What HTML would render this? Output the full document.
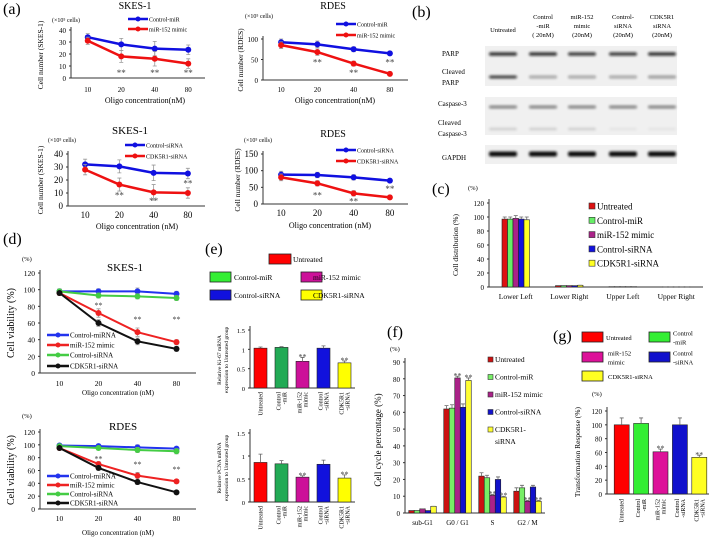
<!DOCTYPE html>
<html><head><meta charset="utf-8"><style>
html,body{margin:0;padding:0;background:#fff;}
svg{display:block;font-family:"Liberation Serif",serif;}
</style></head><body>
<svg id="fig" width="709" height="537" viewBox="0 0 709 537" xmlns="http://www.w3.org/2000/svg">
<defs><filter id="blur1" x="-20%" y="-100%" width="140%" height="300%"><feGaussianBlur stdDeviation="1.2"/></filter></defs>
</svg>
<script>
// ---------- DATA ----------
const concLabels = ['10','20','40','80'];
const aSkesCtrl = [34, 28, 24.5, 23.5];
const aSkesMimic = [31, 18, 16, 12];
const aSkesErr = [3, 5, 6, 4];
const aRdesCtrl = [92, 87, 75, 65];
const aRdesMimic = [85, 68, 40, 15];
const aRdesErr = [8, 8, 6, 5];
const aSkesSiCtrl = [32, 30.5, 25.5, 25];
const aSkesSiCdk = [28, 16.5, 10.5, 10];
const aSkesSiErr = [4, 5, 6, 4];
const aRdesSiCtrl = [88, 87, 80, 70];
const aRdesSiCdk = [80, 62, 32, 20];
const aRdesSiErr = [10, 8, 8, 6];
const dSkesCtrlMiRNA = [98, 98, 98, 95];
const dSkesMimic = [96, 72, 49, 37];
const dSkesCtrlSiRNA = [98, 93, 92, 90];
const dSkesCdk = [96, 60, 38, 29];
const dRdesCtrlMiRNA = [99, 98, 96, 94];
const dRdesMimic = [95, 70, 52, 43];
const dRdesCtrlSiRNA = [98, 95, 92, 90];
const dRdesCdk = [95, 64, 42, 26];
const groupNames = ['Untreated','Control-miR','miR-152 mimic','Control-siRNA','CDK5R1-siRNA'];
const eKi67 = [1.03, 1.05, 0.69, 1.03, 0.65];
const eKi67Err = [0.03, 0.02, 0.1, 0.06, 0.05];
const ePcna = [0.86, 0.83, 0.54, 0.82, 0.52];
const ePcnaErr = [0.18, 0.07, 0.03, 0.09, 0.07];
const cCats = ['Lower Left','Lower Right','Upper Left','Upper Right'];
const cUntreated = [97, 2, 0.5, 0.3];
const cCtrlMiR = [97, 2, 0.5, 0.3];
const cMimic = [98, 2, 0.5, 0.3];
const cCtrlSi = [97, 2, 0.5, 0.3];
const cCdk = [96, 2.5, 0.5, 0.3];
const fCats = ['sub-G1','G0 / G1','S','G2 / M'];
const fUntreated = [1.5, 62, 22, 13];
const fCtrlMiR = [1.5, 62.5, 21, 15];
const fMimic = [2.5, 80.5, 10.5, 7];
const fCtrlSi = [1.5, 63, 20, 15.5];
const fCdk = [4, 79, 9.5, 7];
const gTransform = [100, 102, 61, 100, 53];
const gErr = [10, 8, 4, 10, 3];

// ---------- helpers ----------
const NS='http://www.w3.org/2000/svg';
const svg=document.getElementById('fig');
function mk(tag, attrs, parent){const e=document.createElementNS(NS,tag);for(const k in attrs)e.setAttribute(k,attrs[k]);(parent||svg).appendChild(e);return e;}
function tx(s,x,y,size,parent,anchor,rot){const a={x:x,y:y,'font-size':size,'text-anchor':anchor||'middle'};if(rot)a.transform='rotate('+rot+' '+x+' '+y+')';const t=mk('text',a,parent);t.textContent=s;return t;}

function lineChart(name, geom, ymax, yTicks, series, stars){
  const g=mk('g',{});
  
  
  const band=(geom.x1-geom.x0)/concLabels.length;
  const X=i=>geom.x0+(i+0.5)*band;
  const Y=v=>geom.y0-(v/ymax)*(geom.y0-geom.yTop);
  const ya=mk('line',{x1:geom.x0,y1:geom.yTop-3,x2:geom.x0,y2:geom.y0,stroke:'#333','stroke-width':1},g);
  
  
  const xa=mk('line',{x1:geom.x0,y1:geom.y0,x2:geom.x1,y2:geom.y0,stroke:'#333','stroke-width':1},g);
  
  
  yTicks.forEach(v=>{
    const t=tx(String(v),geom.x0-5,Y(v)+3,geom.tf||8,g,'end');
    
    
    mk('line',{x1:geom.x0-2,y1:Y(v),x2:geom.x0,y2:Y(v),stroke:'#333'},g);
  });
  concLabels.forEach((c,i)=>{
    const t=tx(c,X(i),geom.y0+geom.xl,geom.tf||8,g);
    
    
  });
  series.forEach(s=>{
    const pts=s.vals.map((v,i)=>X(i)+','+Y(v)).join(' ');
    if(s.err){s.vals.forEach((v,i)=>{
      const e=mk('path',{d:'M'+X(i)+' '+Y(v+s.err[i])+'V'+Y(Math.max(0,v-s.err[i]))+'M'+(X(i)-2)+' '+Y(v+s.err[i])+'h4M'+(X(i)-2)+' '+Y(Math.max(0,v-s.err[i]))+'h4',stroke:'#999','stroke-width':0.8,fill:'none'},g);
      
      
    });}
    const pl=mk('polyline',{points:pts,fill:'none',stroke:s.color,'stroke-width':s.w||2.5},g);
    
    
    s.vals.forEach((v,i)=>{
      const c=mk('circle',{cx:X(i),cy:Y(v),r:s.r||3,fill:s.color},g);
      
      
    });
  });
  (stars||[]).forEach((v,i)=>{
    if(v===null)return;
    const t=tx('**',X(i),Y(v)+4,geom.sf||9,g);
    t.setAttribute('fill','#444');
    
    
  });
  return g;
}
function lineLegend(x,y,color,label,size,len){
  const g=mk('g',{});
  
  
  mk('line',{x1:x,y1:y,x2:x+(len||20),y2:y,stroke:color,'stroke-width':2.5},g);
  mk('circle',{cx:x+(len||20)/2,cy:y,r:2.5,fill:color},g);
  tx(label,x+(len||20)+1,y+2.5,size||7,g,'start');
}
function barChart(name, geom, ymax, yTicks, tickFmt, nCats, series, barColors){
  const g=mk('g',{});
  
  
  const bs=geom.bs!==undefined?geom.bs:geom.x0;
  const band=(geom.x1-bs)/nCats;
  const Y=v=>geom.y0-(v/ymax)*(geom.y0-geom.yTop);
  const ya=mk('line',{x1:geom.x0,y1:geom.yTop-4,x2:geom.x0,y2:geom.y0,stroke:'#333'},g);
  
  
  const xa=mk('line',{x1:geom.x0,y1:geom.y0,x2:geom.x1,y2:geom.y0,stroke:'#333'},g);
  
  
  yTicks.forEach(v=>{
    const t=tx(tickFmt(v),geom.x0-5,Y(v)+3,geom.tf||8,g,'end');
    
    
    mk('line',{x1:geom.x0-2,y1:Y(v),x2:geom.x0,y2:Y(v),stroke:'#333'},g);
  });
  const ns=series.length;
  for(let c=0;c<nCats;c++){
    const cx=bs+(c+0.5)*band;
    series.forEach((s,k)=>{
      const v=s.vals[c];
      const x=cx-ns*geom.bw/2+k*geom.bw;
      const col=barColors?barColors[c]:s.color;
      const r=mk('rect',{x:x,y:Y(v),width:geom.bw,height:geom.y0-Y(v),fill:col,stroke:'#222','stroke-width':0.6},g);
      
      
      if(s.err){
        const e=mk('path',{d:'M'+(x+geom.bw/2)+' '+Y(v)+'V'+Y(v+s.err[c])+'M'+(x+geom.bw/2-2)+' '+Y(v+s.err[c])+'h4',stroke:'#666','stroke-width':0.8},g);
        
        
      }
      if(s.stars&&s.stars[c]){
        const t=tx('**',x+geom.bw/2,Y(v+(s.err?s.err[c]:0))-2+4,geom.sf||9,g);
        t.setAttribute('fill','#444');
        
        
      }
    });
  }
  return {g:g,center:c=>bs+(c+0.5)*band};
}
function label(s,x,y,size,name,anchor,rot){const t=tx(s,x,y,size,svg,anchor,rot);return t;}
function boxLegend(x,y,w,h,color,lines,size,tx0,name){
  const g=mk('g',{});
  
  
  mk('rect',{x:x,y:y,width:w,height:h,fill:color,stroke:'#222','stroke-width':0.8},g);
  lines.forEach((l,i)=>tx(l,tx0,y+h/2+3+(i-(lines.length-1)/2)*9,size,g,'start'));
}

// ---------- Panel (a) ----------
label('(a)',3,14,16,'panel-a-label','start');
const u='(×10\u2075 cells)';
lineChart('skes1-mir-chart',{x0:71,x1:205,y0:78,yTop:30,xl:14,tf:7},40,[0,10,20,30,40],
 [{name:'control-mir',vals:aSkesCtrl,err:aSkesErr,color:'#1010e0'},{name:'mir152-mimic',vals:aSkesMimic,err:aSkesErr,color:'#ee1111'}],[null,5,5,5]);
label('SKES-1',135,9,10,'chart-title');
label(u,52,22,6,'y-units','start');
label('Cell number (SKES-1)',43,55,7.5,'y-axis-title','middle',-90);
label('Oligo concentration(nM)',145,103,8,'x-axis-title');
lineLegend(128,19,'#1010e0','Control-miR',6);
lineLegend(128,29,'#ee1111','miR-152 mimic',6);
lineChart('rdes-mir-chart',{x0:263,x1:408,y0:80,yTop:39,xl:12,tf:7},100,[0,50,100],
 [{name:'control-mir',vals:aRdesCtrl,err:aRdesErr,color:'#1010e0'},{name:'mir152-mimic',vals:aRdesMimic,err:aRdesErr,color:'#ee1111'}],[null,45,19,45]);
label('RDES',333,9,10,'chart-title');
label(u,245,18,6,'y-units','start');
label('Cell number (RDES)',243,60,7.5,'y-axis-title','middle',-90);
label('Oligo concentration(nM)',335,103,8,'x-axis-title');
lineLegend(336,24,'#1010e0','Control-miR',6);
lineLegend(336,35,'#ee1111','miR-152 mimic',6);
lineChart('skes1-sirna-chart',{x0:68,x1:205,y0:206,yTop:154,xl:12,tf:9},40,[0,10,20,30,40],
 [{name:'control-sirna',vals:aSkesSiCtrl,err:aSkesSiErr,color:'#1010e0'},{name:'cdk5r1-sirna',vals:aSkesSiCdk,err:aSkesSiErr,color:'#ee1111'}],[null,9,4.5,18]);
label('SKES-1',130,134,11,'chart-title');
label(u,48,142,6,'y-units','start');
label('Cell number (SKES-1)',43,180,7.5,'y-axis-title','middle',-90);
label('Oligo concentration (nM)',137,229,8,'x-axis-title');
lineLegend(125,145,'#1010e0','Control-siRNA',6);
lineLegend(125,156,'#ee1111','CDK5R1-siRNA',6);
lineChart('rdes-sirna-chart',{x0:263,x1:408,y0:204,yTop:154,xl:12,tf:9},150,[0,50,100,150],
 [{name:'control-sirna',vals:aRdesSiCtrl,err:aRdesSiErr,color:'#1010e0'},{name:'cdk5r1-sirna',vals:aRdesSiCdk,err:aRdesSiErr,color:'#ee1111'}],[null,28,10,48]);
label('RDES',333,137,10,'chart-title');
label(u,244,142,6,'y-units','start');
label('Cell number (RDES)',240,180,7.5,'y-axis-title','middle',-90);
label('Oligo concentration (nM)',330,228,8,'x-axis-title');
lineLegend(336,150,'#1010e0','Control-siRNA',6);
lineLegend(336,161,'#ee1111','CDK5R1-siRNA',6);

// ---------- Panel (b) ----------
label('(b)',412,17,16,'panel-b-label','start');
const lanes=[503,543,582,623,662];
const heads=[['Untreated'],['Control','-miR','( 20nM)'],['miR-152','mimic','(20nM)'],['Control-','siRNA','(20nM)'],['CDK5R1','siRNA','(20nM)']];
heads.forEach((h,i)=>{h.forEach((l,j)=>{label(l,lanes[i],(h.length===1?32:19)+j*9,6.5,'lane-header');});});
[[485,46,192,40],[485,97,192,38],[485,145,192,19]].forEach(b=>{const r=mk('rect',{x:b[0],y:b[1],width:b[2],height:b[3],fill:'#f0f0f0'});});
const bandRows=[{y:54,h:3.5,op:[0.85,0.85,0.8,0.8,0.85]},{y:77,h:3,op:[0.8,0.35,0.35,0.35,0.4]},{y:107,h:3,op:[0.5,0.5,0.5,0.5,0.5]},{y:129,h:2.5,op:[0.15,0.15,0.15,0.05,0.05]},{y:154,h:5,op:[1,1,1,1,1]}];
bandRows.forEach(r=>{lanes.forEach((x,i)=>{const e=mk('rect',{x:x-14,y:r.y-r.h/2,width:28,height:r.h,rx:2,fill:'#111','fill-opacity':r.op[i],filter:'url(#blur1)'});});});
label('PARP',442,56,7,'row-label','start');
label('Cleaved',442,74,7,'row-label','start');
label('PARP',442,85,7,'row-label','start');
label('Caspase-3',438,106,7,'row-label','start');
label('Cleaved',438,125,7,'row-label','start');
label('Caspase-3',438,136,7,'row-label','start');
label('GAPDH',442,160,7,'row-label','start');

// ---------- Panel (c) ----------
label('(c)',432,194,16,'panel-c-label','start');
label('(%)',468,190,6.5,'y-units','start');
const cColors=['#dd1111','#66ee66','#aa2288','#1111dd','#ffff22'];
const cc=barChart('cell-distribution-chart',{x0:489,x1:703,y0:287,yTop:203,bw:5.5,tf:7},120,[0,20,40,60,80,100,120],v=>String(v),4,
 [{vals:cUntreated,err:[3,0,0,0],color:cColors[0]},{vals:cCtrlMiR,err:[3,0,0,0],color:cColors[1]},{vals:cMimic,err:[4,0,0,0],color:cColors[2]},{vals:cCtrlSi,err:[3,0,0,0],color:cColors[3]},{vals:cCdk,err:[4,0,0,0],color:cColors[4]}]);
cCats.forEach((c,i)=>label(c,cc.center(i),299,7.5,'x-tick-label'));
label('Cell distribution (%)',458,245,7.5,'y-axis-title','middle',-90);
groupNames.forEach((n,i)=>{const g=mk('g',{});mk('rect',{x:589,y:203+i*14.3,width:6,height:6,fill:cColors[i],stroke:'#333','stroke-width':0.6},g);tx(n,597,209.5+i*14.3,9,g,'start');});

// ---------- Panel (d) ----------
label('(d)',3,244,16,'panel-d-label','start');
const dSeries1=[{name:'control-mirna',vals:dSkesCtrlMiRNA,err:[3,3,4,3],color:'#2233ee',w:2},{name:'mir152-mimic',vals:dSkesMimic,err:[3,5,5,3],color:'#ee2222',w:2},{name:'control-sirna',vals:dSkesCtrlSiRNA,err:[2,3,3,3],color:'#44cc44',w:2},{name:'cdk5r1-sirna',vals:dSkesCdk,err:[2,4,4,3],color:'#111',w:2}];
lineChart('skes1-viability-chart',{x0:40,x1:196,y0:373,yTop:273,xl:13,tf:7.5,sf:8},120,[0,20,40,60,80,100,120],dSeries1,[null,83,66,66]);
label('(%)',22,261,6.5,'y-units','start');
label('SKES-1',125,271,11,'chart-title');
label('Cell viability (%)',14,323,10,'y-axis-title','middle',-90);
label('Oligo concentration (nM)',118,395,7,'x-axis-title');
lineLegend(47,335,'#2233ee','Control-miRNA',7,22);
lineLegend(47,345,'#ee2222','miR-152 mimic',7,22);
lineLegend(47,355,'#44cc44','Control-siRNA',7,22);
lineLegend(47,366,'#111','CDK5R1-siRNA',7,22);
const dSeries2=[{name:'control-mirna',vals:dRdesCtrlMiRNA,err:[3,3,4,3],color:'#2233ee',w:2},{name:'mir152-mimic',vals:dRdesMimic,err:[3,4,5,3],color:'#ee2222',w:2},{name:'control-sirna',vals:dRdesCtrlSiRNA,err:[2,3,4,4],color:'#44cc44',w:2},{name:'cdk5r1-sirna',vals:dRdesCdk,err:[3,4,4,3],color:'#111',w:2}];
lineChart('rdes-viability-chart',{x0:40,x1:196,y0:509,yTop:432,xl:12,tf:7.5,sf:8},120,[0,20,40,60,80,100,120],dSeries2,[null,80,72,64]);
label('(%)',22,418,6.5,'y-units','start');
label('RDES',123,430,11,'chart-title');
label('Cell viability (%)',14,470,10,'y-axis-title','middle',-90);
label('Oligo concentration (nM)',118,535,7,'x-axis-title');
lineLegend(47,476,'#2233ee','Control-miRNA',7,22);
lineLegend(47,485,'#ee2222','miR-152 mimic',7,22);
lineLegend(47,494,'#44cc44','Control-siRNA',7,22);
lineLegend(47,503,'#111','CDK5R1-siRNA',7,22);

// ---------- Panel (e) ----------
label('(e)',205,254,16,'panel-e-label','start');
const eColors=['#ff0000','#22aa55','#cc1199','#1111dd','#ffff00'];
boxLegend(269,254,22,10,'#ff0000',['Untreated'],7.5,293,'legend-entry');
boxLegend(210,272,21,10,'#33ee33',['Control-miR'],7.5,234,'legend-entry');
boxLegend(301,272,21,10,'#cc1199',['miR-152 mimic'],7.5,313,'legend-entry');
boxLegend(210,290,21,10,'#1111dd',['Control-siRNA'],7.5,234,'legend-entry');
boxLegend(301,290,21,10,'#ffff00',['CDK5R1-siRNA'],7.5,313,'legend-entry');
const fmtE=v=>String(v);
const e1=barChart('ki67-chart',{x0:250,x1:355,y0:388,yTop:330,bw:13,tf:6.5,sf:8},1.5,[0,0.5,1,1.5],fmtE,5,[{vals:eKi67,err:eKi67Err,stars:[0,0,1,0,1]}],eColors);
const e2=barChart('pcna-chart',{x0:250,x1:355,y0:502,yTop:433,bw:13,tf:6.5,sf:8},1.5,[0,0.5,1,1.5],fmtE,5,[{vals:ePcna,err:ePcnaErr,stars:[0,0,1,0,1]}],eColors);
const eLbl=[['Untreated'],['Control','-miR'],['miR-152','mimic'],['Control','-siRNA'],['CDK5R1','-siRNA']];
[[e1,392],[e2,506]].forEach(p=>{eLbl.forEach((l,i)=>{l.forEach((s,j)=>{const cx=p[0].center(i)+2-(l.length-1)*3+j*6;label(s,cx,p[1],6,'x-tick-label','end',-90);});});});
label('Relative Ki-67 mRNA',221,360,5.5,'y-axis-title','middle',-90);
label('expression to Untreated group',228,360,5.5,'y-axis-title','middle',-90);
label('Relative PCNA  mRNA',221,468,5.5,'y-axis-title','middle',-90);
label('expression to Untreated group',228,468,5.5,'y-axis-title','middle',-90);

// ---------- Panel (f) ----------
label('(f)',387,337,16,'panel-f-label','start');
label('(%)',390,351,6.5,'y-units','start');
const fColors=['#cc1111','#77ee66','#aa2288','#1111cc','#ffff33'];
const ff=barChart('cell-cycle-chart',{x0:405,x1:545,y0:513,yTop:362,bw:5.5,tf:7,sf:8},90,[0,10,20,30,40,50,60,70,80,90],v=>String(v),4,
 [{vals:fUntreated,err:[0,2,2,2],color:fColors[0]},{vals:fCtrlMiR,err:[0,2,1.5,1.5],color:fColors[1]},{vals:fMimic,err:[0,1,0.5,0.5],color:fColors[2],stars:[0,1,1,1]},{vals:fCtrlSi,err:[0,2,1.5,1],color:fColors[3]},{vals:fCdk,err:[0,1.5,0.5,0.5],color:fColors[4],stars:[0,1,1,1]}]);
fCats.forEach((c,i)=>label(c,ff.center(i),525,7,'x-tick-label'));
label('Cell cycle percentage (%)',381,440,9,'y-axis-title','middle',-90);
['Untreated','Control-miR','miR-152 mimic','Control-siRNA'].forEach((n,i)=>{const g=mk('g',{});mk('rect',{x:488,y:357+i*17.5,width:5,height:5,fill:fColors[i],stroke:'#333','stroke-width':0.6},g);tx(n,495,362+i*17.5,7.5,g,'start');});
{const g=mk('g',{});mk('rect',{x:488,y:427,width:5,height:5,fill:fColors[4],stroke:'#333','stroke-width':0.6},g);tx('CDK5R1-',495,432,7.5,g,'start');tx('siRNA',495,444,7.5,g,'start');}

// ---------- Panel (g) ----------
label('(g)',553,341,16,'panel-g-label','start');
const gColors=['#ff0000','#33ee33','#dd1199','#1111cc','#ffff22'];
boxLegend(582,332,21,10,gColors[0],['Untreated'],6.5,606,'legend-entry');
boxLegend(649,332,21,10,gColors[1],['Control','-miR'],6.5,673,'legend-entry');
boxLegend(582,352,21,10,gColors[2],['miR-152','mimic'],6.5,608,'legend-entry');
boxLegend(649,352,21,10,gColors[3],['Control','-siRNA'],6.5,673,'legend-entry');
boxLegend(582,371,21,10,gColors[4],['CDK5R1-siRNA'],6.5,608,'legend-entry');
label('(%)',592,396,6.5,'y-units','start');
const gg=barChart('transformation-chart',{x0:607,x1:709,bs:612,y0:494,yTop:411,bw:15,tf:7,sf:8},120,[0,20,40,60,80,100,120],v=>String(v),5,[{vals:gTransform,err:gErr,stars:[0,0,1,0,1]}],gColors);
eLbl.forEach((l,i)=>{l.forEach((s,j)=>{const cx=gg.center(i)+2-(l.length-1)*3+j*6;label(s,cx,499,6,'x-tick-label','end',-90);});});
label('Transformation Response (%)',580,452,7.5,'y-axis-title','middle',-90);
</script>
</body></html>
